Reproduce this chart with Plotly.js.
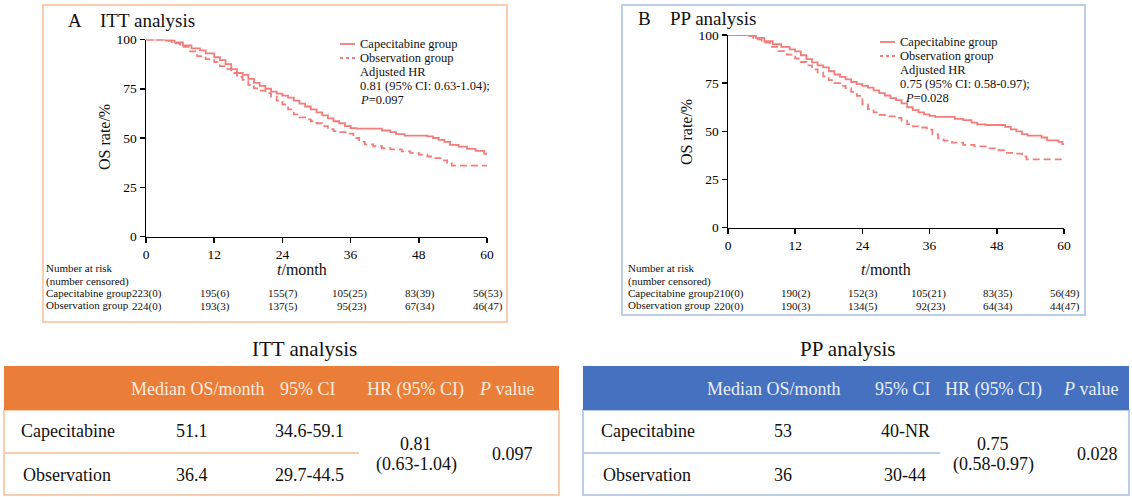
<!DOCTYPE html>
<html>
<head>
<meta charset="utf-8">
<script src="https://cdn.plot.ly/plotly-3.0.1.min.js"></script>
<style>html,body{margin:0;padding:0;background:#fff;}#chart{width:1132px;height:497px;}</style>
</head>
<body>
<div id="chart"></div>
<script>
// ---------- data ----------
const monthTicks = [0, 12, 24, 36, 48, 60];
const rateTicks = [0, 25, 50, 75, 100];

// ITT analysis, Kaplan-Meier (time in months, OS rate %)
const ittCapeT = [0, 3.5, 5, 6.5, 8, 9.5, 10.5, 12, 13, 14, 15, 16, 17, 18, 19, 20, 21, 22, 23, 24, 25, 26, 27, 28, 29, 30, 31, 32, 33, 34, 35, 36, 37, 41.5, 43, 44, 45.5, 49.5, 50.5, 51.5, 52.5, 53.5, 55, 56.5, 58, 59.5, 60];
const ittCapeS = [100, 99.5, 98.5, 97, 95.5, 94.5, 93, 91, 89.5, 87.5, 85, 83, 82, 80, 78, 76.5, 75, 73.5, 72.5, 71.5, 70.5, 69, 67.5, 66, 64.5, 63, 61.5, 60, 58.5, 57.5, 56, 55, 54.8, 53.8, 53, 52, 51.2, 50.8, 50, 49, 48, 46.5, 45.6, 44.5, 43.5, 42, 42];
const ittObsT = [0, 3, 4.5, 6, 7.5, 9, 10.5, 12, 13, 14, 15, 16, 17, 18, 19, 20, 21, 22, 23, 24, 25, 26, 27, 28, 29, 30, 31, 32, 33, 34, 35.5, 36.5, 37.5, 38.5, 40, 41.5, 43, 45, 46.5, 48, 49.5, 50.5, 52, 53, 53.8, 60];
const ittObsS = [100, 99.5, 98, 96.3, 94, 91.5, 90, 88.5, 86.5, 85, 83, 81, 79.5, 77, 75.2, 74, 72.8, 71, 69, 67, 64.5, 62, 60.5, 59.5, 58.5, 57.5, 56, 54.5, 53.5, 53, 52.2, 50, 48, 46.8, 45.8, 44.8, 44.2, 43.2, 42.5, 41.6, 40.6, 39.8, 38.6, 37.4, 36, 36];

// PP analysis
const ppCapeT = [0, 3.8, 5, 6.5, 8, 9.5, 11, 12, 13, 14, 15, 16, 17, 18, 19, 20, 21, 22, 23, 24, 25, 26, 27, 28, 29, 30, 31, 32, 33, 34, 35, 36, 37, 40.5, 42, 43.5, 44.5, 46, 49.5, 50.5, 51.5, 52.5, 53.5, 56, 57, 59, 59.7, 60];
const ppCapeS = [100, 99.5, 98.5, 96.8, 95.2, 93.8, 92.5, 91.5, 89.5, 87.5, 85.8, 84.2, 83.2, 81.2, 79.5, 78.3, 77, 75.6, 74.5, 73.6, 72.7, 71.3, 69.8, 68.6, 67.2, 66.2, 64.5, 62.5, 61, 59.8, 58.8, 58, 57.5, 56.5, 55.8, 54.5, 53.6, 53.3, 52.3, 51, 50, 48.6, 47.8, 46.8, 45.3, 44.5, 43.4, 43.4];
const ppObsT = [0, 3.3, 4.5, 6, 7.5, 9, 10.5, 12, 13, 14, 15, 16, 17, 18, 19, 20, 21, 22, 23, 24, 25, 26, 27, 28, 30, 31, 32, 33, 34, 35.5, 36.5, 37.5, 38.5, 40, 42, 44, 46, 48, 49.5, 51, 52.5, 53.3, 60];
const ppObsS = [100, 99.4, 97.8, 96, 93.8, 91.6, 89.8, 87.8, 86, 84.2, 82.2, 80.5, 78.5, 76.6, 75, 73.6, 72.4, 70.5, 68.4, 64, 61.5, 59.8, 58.5, 57.8, 57, 55.5, 53.8, 52.6, 52, 50.9, 48.5, 46.4, 45.2, 44.1, 43, 42.2, 41.2, 40.2, 38.8, 38.4, 37, 35.5, 35.5];

// Number at risk (number censored)
const ittRiskCape = ['223(0)', '195(6)', '155(7)', '105(25)', '83(39)', '56(53)'];
const ittRiskObs  = ['224(0)', '193(3)', '137(5)', '95(23)', '67(34)', '46(47)'];
const ppRiskCape  = ['210(0)', '190(2)', '152(3)', '105(21)', '83(35)', '56(49)'];
const ppRiskObs   = ['220(0)', '190(3)', '134(5)', '92(23)', '64(34)', '44(47)'];

// Summary tables
const tableHeader = ['Median OS/month', '95% CI', 'HR (95% CI)', '<i>P</i> value'];
const groups = ['Capecitabine', 'Observation'];
const ittMedian = ['51.1', '36.4'];
const ittCI = ['34.6-59.1', '29.7-44.5'];
const ittHR = ['0.81', '(0.63-1.04)'];
const ittP = '0.097';
const ppMedian = ['53', '36'];
const ppCI = ['40-NR', '30-44'];
const ppHR = ['0.75', '(0.58-0.97)'];
const ppP = '0.028';

// ---------- layout helpers ----------
const W = 1132, H = 497;
const FONT = '"Liberation Serif", "Times New Roman", Tinos, "DejaVu Serif", serif';
const X = px => px / W;
const Y = py => 1 - py / H;
const CURVE = '#F27D7B';

const traces = [
  {x: ittCapeT, y: ittCapeS, xaxis: 'x', yaxis: 'y', mode: 'lines', line: {shape: 'hv', color: CURVE, width: 1.8}, name: 'Capecitabine group'},
  {x: ittObsT, y: ittObsS, xaxis: 'x', yaxis: 'y', mode: 'lines', line: {shape: 'hv', color: CURVE, width: 1.8, dash: '7px,4px'}, name: 'Observation group'},
  {x: ppCapeT, y: ppCapeS, xaxis: 'x2', yaxis: 'y2', mode: 'lines', line: {shape: 'hv', color: CURVE, width: 1.8}, name: 'Capecitabine group'},
  {x: ppObsT, y: ppObsS, xaxis: 'x2', yaxis: 'y2', mode: 'lines', line: {shape: 'hv', color: CURVE, width: 1.8, dash: '7px,4px'}, name: 'Observation group'}
];

function xax(dom, anchor) {
  return {domain: dom, anchor: anchor, range: [0, 60], tickvals: monthTicks, ticks: 'outside', ticklen: 5, tickwidth: 1.5,
    tickcolor: '#000', showline: true, linecolor: '#000', linewidth: 1.5, showgrid: false, zeroline: false,
    tickfont: {family: FONT, size: 13.5, color: '#000'}, fixedrange: true};
}
function yax(dom, anchor) {
  return {domain: dom, anchor: anchor, range: [0, 100], tickvals: rateTicks, ticks: 'outside', ticklen: 5, tickwidth: 1.5,
    tickcolor: '#000', showline: true, linecolor: '#000', linewidth: 1.5, showgrid: false, zeroline: false,
    tickfont: {family: FONT, size: 13.5, color: '#000'}, fixedrange: true};
}

const annotations = [];
const shapes = [];
function txt(x, y, text, size, opts) {
  annotations.push(Object.assign({xref: 'paper', yref: 'paper', x: X(x), y: Y(y), text: text, showarrow: false,
    xanchor: 'left', yanchor: 'middle', borderpad: 0, font: {family: FONT, size: size, color: '#111'}}, opts || {}));
}

// panel boxes
shapes.push({type: 'rect', xref: 'paper', yref: 'paper', x0: X(43), x1: X(507), y0: Y(5), y1: Y(322), line: {color: '#F9CDB0', width: 2}});
shapes.push({type: 'rect', xref: 'paper', yref: 'paper', x0: X(622), x1: X(1085), y0: Y(5), y1: Y(315), line: {color: '#BCCDEA', width: 2}});

function panel(o) {
  txt(o.labX, o.titleY, o.lab, 19);
  txt(o.labX + 32, o.titleY, o.title, 19);
  txt(o.ytitleX, o.ytitleY, 'OS rate/%', 16, {textangle: -90, xanchor: 'center'});
  txt(o.xtitleX, 269, '<i>t</i>/month', 16, {xanchor: 'center'});
  // legend
  shapes.push({type: 'line', xref: 'paper', yref: 'paper', x0: X(o.legX), x1: X(o.legX + 15), y0: Y(o.legY[0]), y1: Y(o.legY[0]), line: {color: CURVE, width: 1.8}});
  shapes.push({type: 'line', xref: 'paper', yref: 'paper', x0: X(o.legX), x1: X(o.legX + 15), y0: Y(o.legY[1]), y1: Y(o.legY[1]), line: {color: CURVE, width: 1.8, dash: 'dot'}});
  const tx = o.legX + 19;
  const LS = 12.5;
  txt(tx, o.legY[0], 'Capecitabine group', LS);
  txt(tx, o.legY[1], 'Observation group', LS);
  txt(tx, o.legY[2], 'Adjusted HR', LS);
  txt(tx, o.legY[3], o.hrText, LS);
  txt(tx + o.pIndent, o.legY[4], o.pText, LS);
  // at-risk table
  txt(o.riskX, 268, 'Number at risk', 11);
  txt(o.riskX, 281, '(number censored)', 11);
  txt(o.riskX, 293, 'Capecitabine group', 11);
  txt(o.riskX, 305, 'Observation group', 11);
  monthTicks.forEach((m, i) => {
    annotations.push({xref: o.xref, yref: 'paper', x: m, y: Y(293), xshift: 17, text: o.riskCape[i], showarrow: false, borderpad: 0,
      xanchor: 'right', yanchor: 'middle', font: {family: FONT, size: 11, color: '#111'}});
    annotations.push({xref: o.xref, yref: 'paper', x: m, y: Y(306), xshift: 17, text: o.riskObs[i], showarrow: false, borderpad: 0,
      xanchor: 'right', yanchor: 'middle', font: {family: FONT, size: 11, color: '#111'}});
  });
}

panel({lab: 'A', title: 'ITT analysis', labX: 67, titleY: 20, ytitleX: 105, ytitleY: 137, xtitleX: 302,
  legX: 340, legY: [44, 58, 72, 86, 100], hrText: '0.81 (95% CI: 0.63-1.04);', pText: '<i>P</i>=0.097', pIndent: 0,
  riskX: 45, xref: 'x', riskCape: ittRiskCape, riskObs: ittRiskObs});
panel({lab: 'B', title: 'PP analysis', labX: 637, titleY: 18, ytitleX: 687, ytitleY: 132, xtitleX: 886,
  legX: 880, legY: [42, 56, 70, 84, 98], hrText: '0.75 (95% CI: 0.58-0.97);', pText: '<i>P</i>=0.028', pIndent: 5,
  riskX: 627, xref: 'x2', riskCape: ppRiskCape, riskObs: ppRiskObs});

// summary tables
function table(o) {
  txt(o.titleX, 349, o.title, 21, {xanchor: 'center'});
  shapes.push({type: 'rect', xref: 'paper', yref: 'paper', x0: X(o.x0), x1: X(o.x1), y0: Y(410), y1: Y(495), line: {color: o.border, width: 2}, fillcolor: 'rgba(0,0,0,0)'});
  shapes.push({type: 'rect', xref: 'paper', yref: 'paper', x0: X(o.x0), x1: X(o.x1), y0: Y(366), y1: Y(410), line: {width: 0}, fillcolor: o.head});
  shapes.push({type: 'line', xref: 'paper', yref: 'paper', x0: X(o.x0), x1: X(o.divEnd), y0: Y(453), y1: Y(453), line: {color: o.border, width: 2}});
  tableHeader.forEach((h, i) => txt(o.cols[i], 389, h, 18, {xanchor: 'center', font: {family: FONT, size: 18, color: o.headText}}));
  groups.forEach((g, r) => {
    const yy = r === 0 ? 431 : 475;
    txt(o.labelX + 2 * r, yy, g, 18);
    txt(o.vals[0], yy, o.median[r], 18, {xanchor: 'center'});
    txt(o.vals[1], yy, o.ci[r], 18, {xanchor: 'center'});
  });
  txt(o.vals[2], 444, o.hr[0], 18, {xanchor: 'center'});
  txt(o.vals[2], 464, o.hr[1], 18, {xanchor: 'center'});
  txt(o.vals[3], 454, o.p, 18, {xanchor: 'center'});
}
table({title: 'ITT analysis', titleX: 304, x0: 4, x1: 559, divEnd: 359, border: '#F9CDB0', head: '#EA7E38', headText: '#FCEBDF',
  cols: [198, 308, 415, 506], vals: [192, 309, 416, 512], labelX: 20, median: ittMedian, ci: ittCI, hr: ittHR, p: ittP});
table({title: 'PP analysis', titleX: 847, x0: 583, x1: 1129, divEnd: 940, border: '#BCCDEA', head: '#4671C0', headText: '#E9EFF9',
  cols: [774, 903, 993, 1090], vals: [783, 905, 993, 1097], labelX: 600, median: ppMedian, ci: ppCI, hr: ppHR, p: ppP});

const layout = {
  width: W, height: H, margin: {l: 0, r: 0, t: 0, b: 0}, showlegend: false,
  paper_bgcolor: '#fff', plot_bgcolor: 'rgba(0,0,0,0)', font: {family: FONT, color: '#111'},
  xaxis: xax([X(146), X(487)], 'y'), yaxis: yax([Y(236.5), Y(39.5)], 'x'),
  xaxis2: xax([X(728), X(1064)], 'y2'), yaxis2: yax([Y(227.7), Y(35)], 'x2'),
  shapes: shapes, annotations: annotations
};
Plotly.newPlot('chart', traces, layout, {displayModeBar: false, staticPlot: true});
</script>
</body>
</html>
